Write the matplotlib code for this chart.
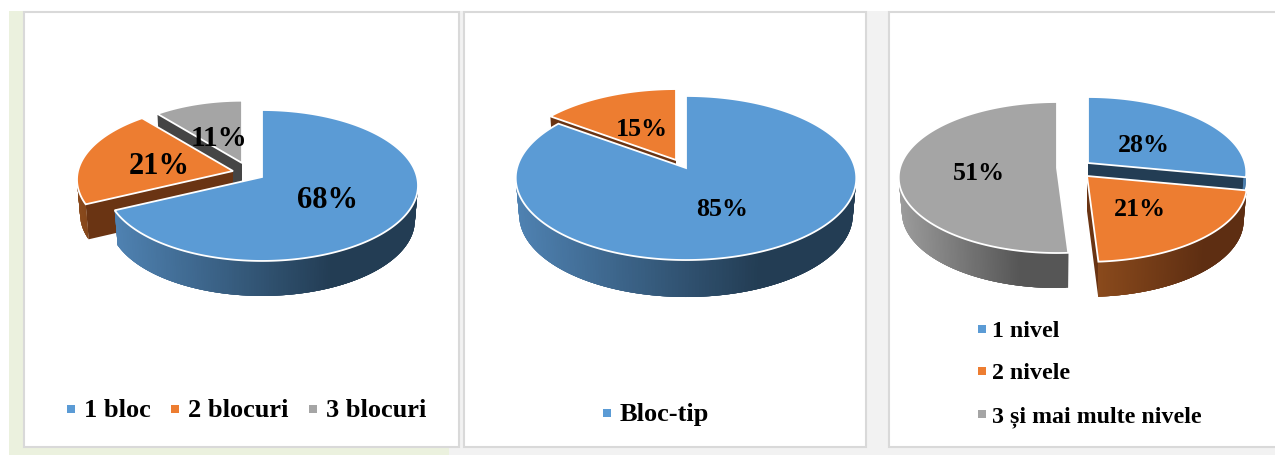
import numpy as np
import matplotlib
matplotlib.use("Agg")
import matplotlib.pyplot as plt
from matplotlib.patches import Polygon, Rectangle
from matplotlib.colors import to_rgb

plt.rcParams["font.family"] = ["Liberation Serif", "DejaVu Serif"]

# chart values
blocks_names = ["1 bloc", "2 blocuri", "3 blocuri"]
blocks_values = [68, 21, 11]
type_names = ["Bloc-tip"]
type_values = [85, 15]
levels_names = ["1 nivel", "2 nivele", "3 și mai multe nivele"]
levels_values = [28, 21, 51]

FACE = ["#5b9bd5", "#ed7d31", "#a5a5a5"]
LIT = ["#4f82b2", "#8a4a1c", "#9c9c9c"]
SHADE = ["#233d54", "#5e2e12", "#565656"]
CUT = ["#233d54", "#6a3413", "#454545"]
LEGEND = ["#5b9bd5", "#ed7d31", "#a5a5a5"]

fig = plt.figure(figsize=(12.75, 4.55), dpi=100, facecolor="white")
ax = fig.add_axes([0, 0, 1, 1])
ax.set_xlim(0, 1275)
ax.set_ylim(455, 0)
ax.axis("off")

# page background behind the three panels
ax.add_patch(Rectangle((449, 11), 826, 444, fc="#f2f2f2", ec="none", zorder=0))
ax.add_patch(Rectangle((9, 11), 440, 444, fc="#ebf1de", ec="none", zorder=0))
ax.add_patch(Rectangle((24, 11), 436, 437, fc="#e8e8e8", ec="none", zorder=0))

for x0, x1 in [(24, 459), (464, 866), (889, 1280)]:
    ax.add_patch(Rectangle((x0, 12), x1 - x0, 435, fc="white", ec="#d9d9d9", lw=1.5, zorder=1))


def project(theta, rx, ry, k, scale=1.0):
    # point on the rim of a tilted disc, theta clockwise from the top
    u = np.sin(theta)
    v = np.cos(theta)
    d = 1 + k * v
    return scale * rx * u / d, -scale * ry * v / d


def draw_pie(values, apexes, scales, order, rx, ry, k, depth, colors=(0, 1, 2)):
    cuts = np.cumsum([0] + list(values)) / sum(values) * 2 * np.pi
    z = 2
    for i in order:
        c = colors[i]
        ax_, ay_ = apexes[i]
        th = np.linspace(cuts[i], cuts[i + 1], 300)
        px, py = project(th, rx, ry, k, scales[i])
        # the lower rim sits a little narrower than the top one
        bx = ax_ + px * 0.98
        by = ay_ + py + depth
        px = px + ax_
        py = py + ay_

        # straight cut walls
        for j in [0, -1]:
            ax.add_patch(Polygon(
                [(ax_, ay_), (px[j], py[j]), (bx[j], by[j]), (ax_, ay_ + depth)],
                fc=CUT[c], ec="none", zorder=z))

        # outer wall with a left to right shading, only the side facing us
        front = np.where(np.cos(th) < 0)[0]
        if len(front) > 1:
            xmin = px[front].min()
            xmax = px[front].max()
            lit = np.array(to_rgb(LIT[c]))
            shade = np.array(to_rgb(SHADE[c]))
            for n in front[:-1]:
                m = min(n + 4, front[-1])
                t = min(1, (px[n] - xmin) / max(xmax - xmin, 100) / 0.72)
                col = lit + (shade - lit) * t
                ax.add_patch(Polygon(
                    [(px[n], py[n]), (px[m], py[m]), (bx[m], by[m]), (bx[n], by[n])],
                    fc=col, ec="none", zorder=z))

        # top of the slice
        ax.add_patch(Polygon(
            np.column_stack([np.r_[ax_, px], np.r_[ay_, py]]),
            fc=FACE[c], ec="white", lw=1.3, joinstyle="miter", zorder=z + 1))
        z += 2


draw_pie(blocks_values, [(262, 177), (233, 171), (242, 163)], [1, 1, 0.93], [2, 1, 0],
         rx=155, ry=74.5, k=0.1125, depth=35)
draw_pie(type_values, [(686, 168), (676, 160)], [1, 0.985], [1, 0],
         rx=169, ry=80.8, k=0.122, depth=37)
draw_pie(levels_values, [(1088, 163), (1087, 176), (1057, 168)], [1, 1.01, 1], [0, 1, 2],
         rx=157, ry=74.3, k=0.126, depth=35)

# percent labels
blocks_pos = [(327, 200), (159, 167), (219, 138)]
blocks_size = [22, 22, 21]
for v, (x, y), s in zip(blocks_values, blocks_pos, blocks_size):
    ax.text(x, y, f"{v}%", fontsize=s, fontweight="bold", ha="center", va="center", zorder=20)
for v, (x, y) in zip(type_values, [(722, 209), (642, 129)]):
    ax.text(x, y, f"{v}%", fontsize=18.7, fontweight="bold", ha="center", va="center", zorder=20)
for v, (x, y) in zip(levels_values, [(1144, 145), (1140, 209), (979, 173)]):
    ax.text(x, y, f"{v}%", fontsize=18.7, fontweight="bold", ha="center", va="center", zorder=20)


# legends
def legend_entry(x, y, name, color, size):
    ax.add_patch(Rectangle((x, y - 12.5), 8, 8, fc=color, ec="none", zorder=20))
    ax.text(x + 17 if size > 18 else x + 14, y, name, fontsize=size, fontweight="bold",
            ha="left", va="baseline", zorder=20)


for name, c, x in zip(blocks_names, LEGEND, [67, 171, 309]):
    legend_entry(x, 417, name, c, 19)
legend_entry(603, 421, type_names[0], LEGEND[0], 19)
for name, c, y in zip(levels_names, LEGEND, [337, 379, 422]):
    legend_entry(978, y, name, c, 17.2)

fig.savefig("out.png", dpi=100)
